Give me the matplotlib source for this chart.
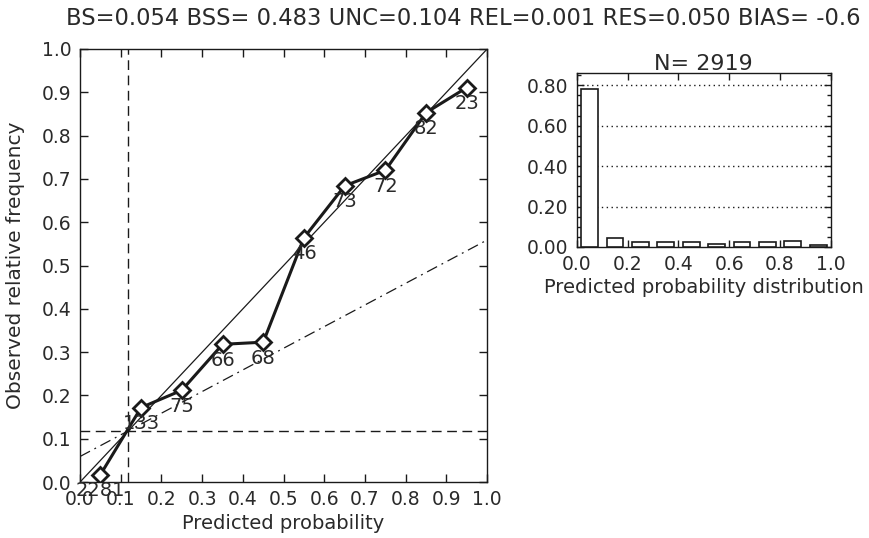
import numpy as np
import matplotlib
matplotlib.use('Agg')
import matplotlib.pyplot as plt

# Reliability data (bin centres, observed frequency, counts per bin)
prob_bins = [0.05, 0.15, 0.25, 0.35, 0.45, 0.55, 0.65, 0.75, 0.85, 0.95]
obs_freq = [0.017, 0.172, 0.212, 0.318, 0.323, 0.564, 0.684, 0.720, 0.853, 0.911]
bin_counts = [2281, 133, 75, 66, 68, 46, 73, 72, 82, 23]
climatology = 0.118

title_text = 'BS=0.054 BSS= 0.483 UNC=0.104 REL=0.001 RES=0.050 BIAS= -0.6'
ticks_main = [0.0, 0.1, 0.2, 0.3, 0.4, 0.5, 0.6, 0.7, 0.8, 0.9, 1.0]
ticks_hist_x = [0.0, 0.2, 0.4, 0.6, 0.8, 1.0]
ticks_hist_y = [0.0, 0.2, 0.4, 0.6, 0.8]

ink = '#1a1a1a'
txt = '#2a2a2a'
plt.rcParams['font.family'] = 'DejaVu Sans'

fig = plt.figure(figsize=(8.7, 5.38), dpi=100)
fig.text(0.532, 0.966, title_text, ha='center', va='center', fontsize=16.3, color=txt)

# ==================================
#        reliability diagram
# ==================================
ax = fig.add_axes([0.092, 0.104, 0.468, 0.805])
ax.set_xlim(0, 1)
ax.set_ylim(0, 1)

ax.plot([0, 1], [0, 1], color=ink, lw=0.9)
no_skill_x = np.array([0.0, 1.0])
ax.plot(no_skill_x, (no_skill_x + climatology) / 2, color=ink, lw=0.9,
        linestyle=(0, (9, 4, 1.5, 4)))
ax.axvline(climatology, color=ink, lw=1.0, linestyle=(0, (7, 4)))
ax.axhline(climatology, color=ink, lw=1.0, linestyle=(0, (7, 4)))

ax.plot(prob_bins, obs_freq, color=ink, lw=2.2, marker='D', ms=8.5,
        mfc='white', mec=ink, mew=2.0, zorder=5)
for px, py, n in zip(prob_bins, obs_freq, bin_counts):
    ax.text(px, py - 0.05, str(n), ha='center', va='baseline', fontsize=14,
            color=txt, zorder=6, clip_on=False)

ax.set_xticks(ticks_main)
ax.set_yticks(ticks_main)
ax.set_xticklabels(['%.1f' % t for t in ticks_main])
ax.set_yticklabels(['%.1f' % t for t in ticks_main])
ax.tick_params(direction='in', top=True, right=True, length=6, width=1.0,
               labelsize=13.5, labelcolor=txt, color=ink, pad=6)
ax.set_xlabel('Predicted probability', fontsize=14, color=txt, labelpad=3)
ax.set_ylabel('Observed relative frequency', fontsize=14.5, color=txt)
ax.yaxis.set_label_coords(-0.135, 0.5)
for s in ax.spines.values():
    s.set_color(ink)
    s.set_linewidth(1.0)

# ==================================
#       forecast distribution
# ==================================
counts = np.array(bin_counts, dtype=float)
rel_counts = counts / counts.sum()

ax2 = fig.add_axes([0.663, 0.541, 0.292, 0.323])
ax2.set_xlim(0, 1)
ax2.set_ylim(0, 0.86)
for gy in ticks_hist_y[1:]:
    ax2.axhline(gy, color=ink, lw=1.0, linestyle=(0, (1, 2.5)), zorder=1)
ax2.bar(prob_bins, rel_counts, width=0.066, color='white', edgecolor=ink,
        linewidth=1.2, zorder=3)
ax2.set_xticks(ticks_hist_x)
ax2.set_xticklabels(['%.1f' % t for t in ticks_hist_x])
ax2.set_yticks(ticks_hist_y)
ax2.set_yticklabels(['%.2f' % t for t in ticks_hist_y])
ax2.set_yticks(np.arange(0, 0.86, 0.05), minor=True)
ax2.tick_params(direction='in', top=True, right=True, length=5, width=1.0,
                labelsize=13.5, labelcolor=txt, color=ink, pad=6)
ax2.tick_params(which='minor', direction='in', left=True, right=True,
                length=3, width=1.0, color=ink)
ax2.set_title('N= 2919', fontsize=16, color=txt, pad=2)
ax2.set_xlabel('Predicted probability distribution', fontsize=14, color=txt,
               labelpad=3)
for s in ax2.spines.values():
    s.set_color(ink)
    s.set_linewidth(1.0)

fig.savefig('out.png', dpi=100)
